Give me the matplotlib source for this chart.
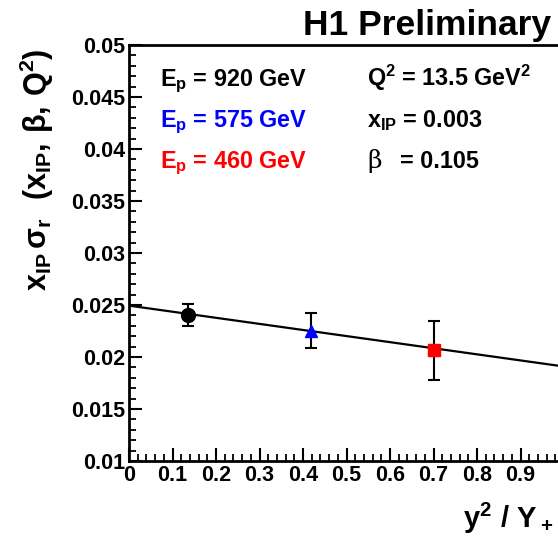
import numpy as np
import matplotlib.pyplot as plt
from matplotlib.ticker import MultipleLocator, FuncFormatter

plt.rcParams['font.family'] = ['Liberation Sans', 'DejaVu Sans']
plt.rcParams['font.weight'] = 'bold'
plt.rcParams['mathtext.fontset'] = 'custom'
plt.rcParams['mathtext.rm'] = 'Liberation Sans:bold'
plt.rcParams['mathtext.it'] = 'Liberation Sans:bold'
plt.rcParams['mathtext.bf'] = 'Liberation Sans:bold'

# Data
x_pts = [0.136, 0.418, 0.702]
y_pts = [0.02407, 0.02246, 0.02067]
err_lo = [0.00106, 0.00160, 0.00289]
err_hi = [0.00103, 0.00178, 0.00282]
markers = ['o', '^', 's']
colors = ['black', 'blue', 'red']
msizes = [10, 9, 9]

fit_x = [0.0, 1.1]
fit_y = [0.02494, 0.01850]

energies = ['920', '575', '460']

W, H = 558, 545
fig = plt.figure(figsize=(W / 100, H / 100), dpi=100)
ax = fig.add_axes([129 / W, 84 / H, 478.5 / W, 416 / H])

ax.plot(fit_x, fit_y, color='black', lw=1.6, zorder=2)
for xp, yp, lo, hi, m, c, ms in zip(x_pts, y_pts, err_lo, err_hi, markers, colors, msizes):
    ax.errorbar([xp], [yp], yerr=[[lo], [hi]], fmt='none', ecolor='black',
                elinewidth=1.5, capsize=4, capthick=1.5, zorder=3)
    ax.plot([xp], [yp], marker=m, color=c, markersize=ms, ls='none', zorder=4)

ax.set_xlim(0, 1.1)
ax.set_ylim(0.01, 0.05)
ax.xaxis.set_major_locator(MultipleLocator(0.1))
ax.xaxis.set_minor_locator(MultipleLocator(0.02))
ax.yaxis.set_major_locator(MultipleLocator(0.005))
ax.yaxis.set_minor_locator(MultipleLocator(0.001))
fmt = FuncFormatter(lambda v, p: '%g' % round(v, 4))
ax.xaxis.set_major_formatter(fmt)
ax.yaxis.set_major_formatter(fmt)
ax.tick_params(which='major', direction='in', length=9.5, width=1.5,
               labelsize=15.5, pad=3)
ax.tick_params(which='minor', direction='in', length=5, width=1.3)
for s in ax.spines.values():
    s.set_linewidth(2)

# labels
fig.text(37 / W, 1 - 170 / H,
         r'$\mathregular{x_{IP}\,\sigma_r\ \ (x_{IP},\,\beta,\,Q^2)}$',
         rotation=90, ha='center', va='center', fontsize=22)
fig.text(463 / W, 1 - 528 / H, r'$\mathregular{y^2\ /\ Y_+}$',
         ha='left', va='baseline', fontsize=21)
fig.text(303 / W, 1 - 35 / H, 'H1 Preliminary', ha='left', va='baseline',
         fontsize=25.5, fontweight='bold')

# legend-like texts
for i, (e, c) in enumerate(zip(energies, colors)):
    fig.text(160 / W, 1 - (86 + 41 * i) / H,
             r'$\mathregular{E_p}$ = %s GeV' % e, color=c,
             ha='left', va='baseline', fontsize=16.8)
fig.text(367 / W, 1 - 86 / H, r'$\mathregular{Q^2}$ = 13.5 GeV$\mathregular{^2}$',
         ha='left', va='baseline', fontsize=16.8)
fig.text(367 / W, 1 - 127 / H, r'$\mathregular{x_{IP}}$ = 0.003',
         ha='left', va='baseline', fontsize=16.8)
fig.text(367 / W, 1 - 168 / H, '\u03b2', ha='left', va='baseline',
         fontsize=18, fontweight='normal', family=['DejaVu Serif'])
fig.text(400 / W, 1 - 168 / H, '= 0.105', ha='left', va='baseline', fontsize=16.8)

fig.savefig('out.png', dpi=100)
